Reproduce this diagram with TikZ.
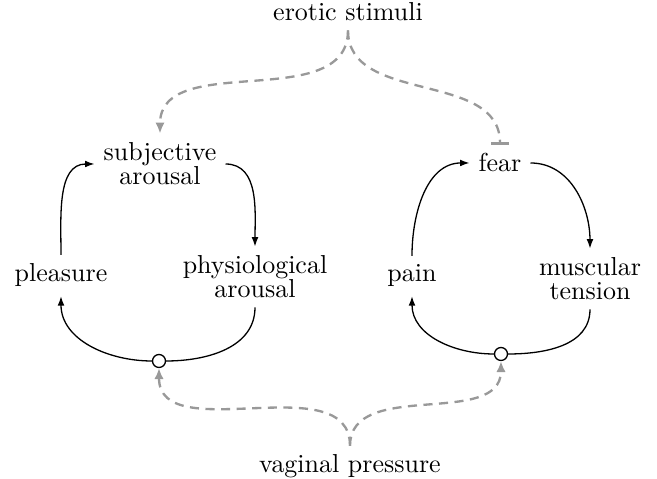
\documentclass[tikz,border=0pt]{standalone}
\usetikzlibrary{arrows.meta}
\begin{document}
\begin{tikzpicture}[x=0.385pt,y=0.385pt,
  lbl/.style={inner sep=3.33pt, align=center},
  cyc/.style={line width=0.5pt},
  cycarrow/.style={cyc, -{Latex[length=3.6pt,width=2.6pt]}},
  infl/.style={draw=black!40, line width=0.9pt, dash pattern=on 3.5pt off 2.5pt},
  excite/.style={infl, -{Latex[length=4.2pt,width=3.6pt]}},
  inhib/.style={infl, -{Bar[width=7pt]}},
  junction/.style={circle, draw, fill=white, inner sep=0pt, minimum size=5pt, line width=0.5pt}]
\useasboundingbox (0,0) rectangle (657,-479);
% labels
\node[lbl, anchor=base] (stim) at (348,-21) {erotic stimuli};
\node[lbl] (subj) at (160,-164) {subjective\\[-2.7pt]arousal};
\node[lbl] (phys) at (255,-277) {physiological\\[-2.7pt]arousal};
\node[lbl, anchor=base] (pleas) at (61,-282) {pleasure};
\node[lbl, anchor=base] (fear) at (500,-172) {fear};
\node[lbl] (musc) at (590,-279) {muscular\\[-2.7pt]tension};
\node[lbl, anchor=base] (pain) at (412,-282) {pain};
\node[lbl, anchor=base] (vag) at (350,-473) {vaginal pressure};
\node[junction] (c1) at (159,-361) {};
\node[junction] (c2) at (501,-354) {};
% left cycle
\draw[cycarrow] (pleas.north) to[out=90,in=180] (subj.west);
\draw[cycarrow] (subj.east) to[out=0,in=90] (phys.north);
\draw[cyc] (phys.south) to[out=-90,in=0] (c1.east);
\draw[cycarrow] (c1.west) to[out=180,in=-90] (pleas.south);
% right cycle
\draw[cycarrow] (pain.north) to[out=90,in=180] (fear.west);
\draw[cycarrow] (fear.east) to[out=0,in=90] (musc.north);
\draw[cyc] (musc.south) to[out=-90,in=0] (c2.east);
\draw[cycarrow] (c2.west) to[out=180,in=-90] (pain.south);
% influences
\draw[excite] (stim.south) to[out=-90,in=90] (subj.north);
\draw[inhib] (stim.south) to[out=-90,in=90] (fear.north);
\draw[excite] (vag.north) to[out=90,in=-90] (c1.south);
\draw[excite] (vag.north) to[out=90,in=-90] (c2.south);
\end{tikzpicture}
\end{document}
